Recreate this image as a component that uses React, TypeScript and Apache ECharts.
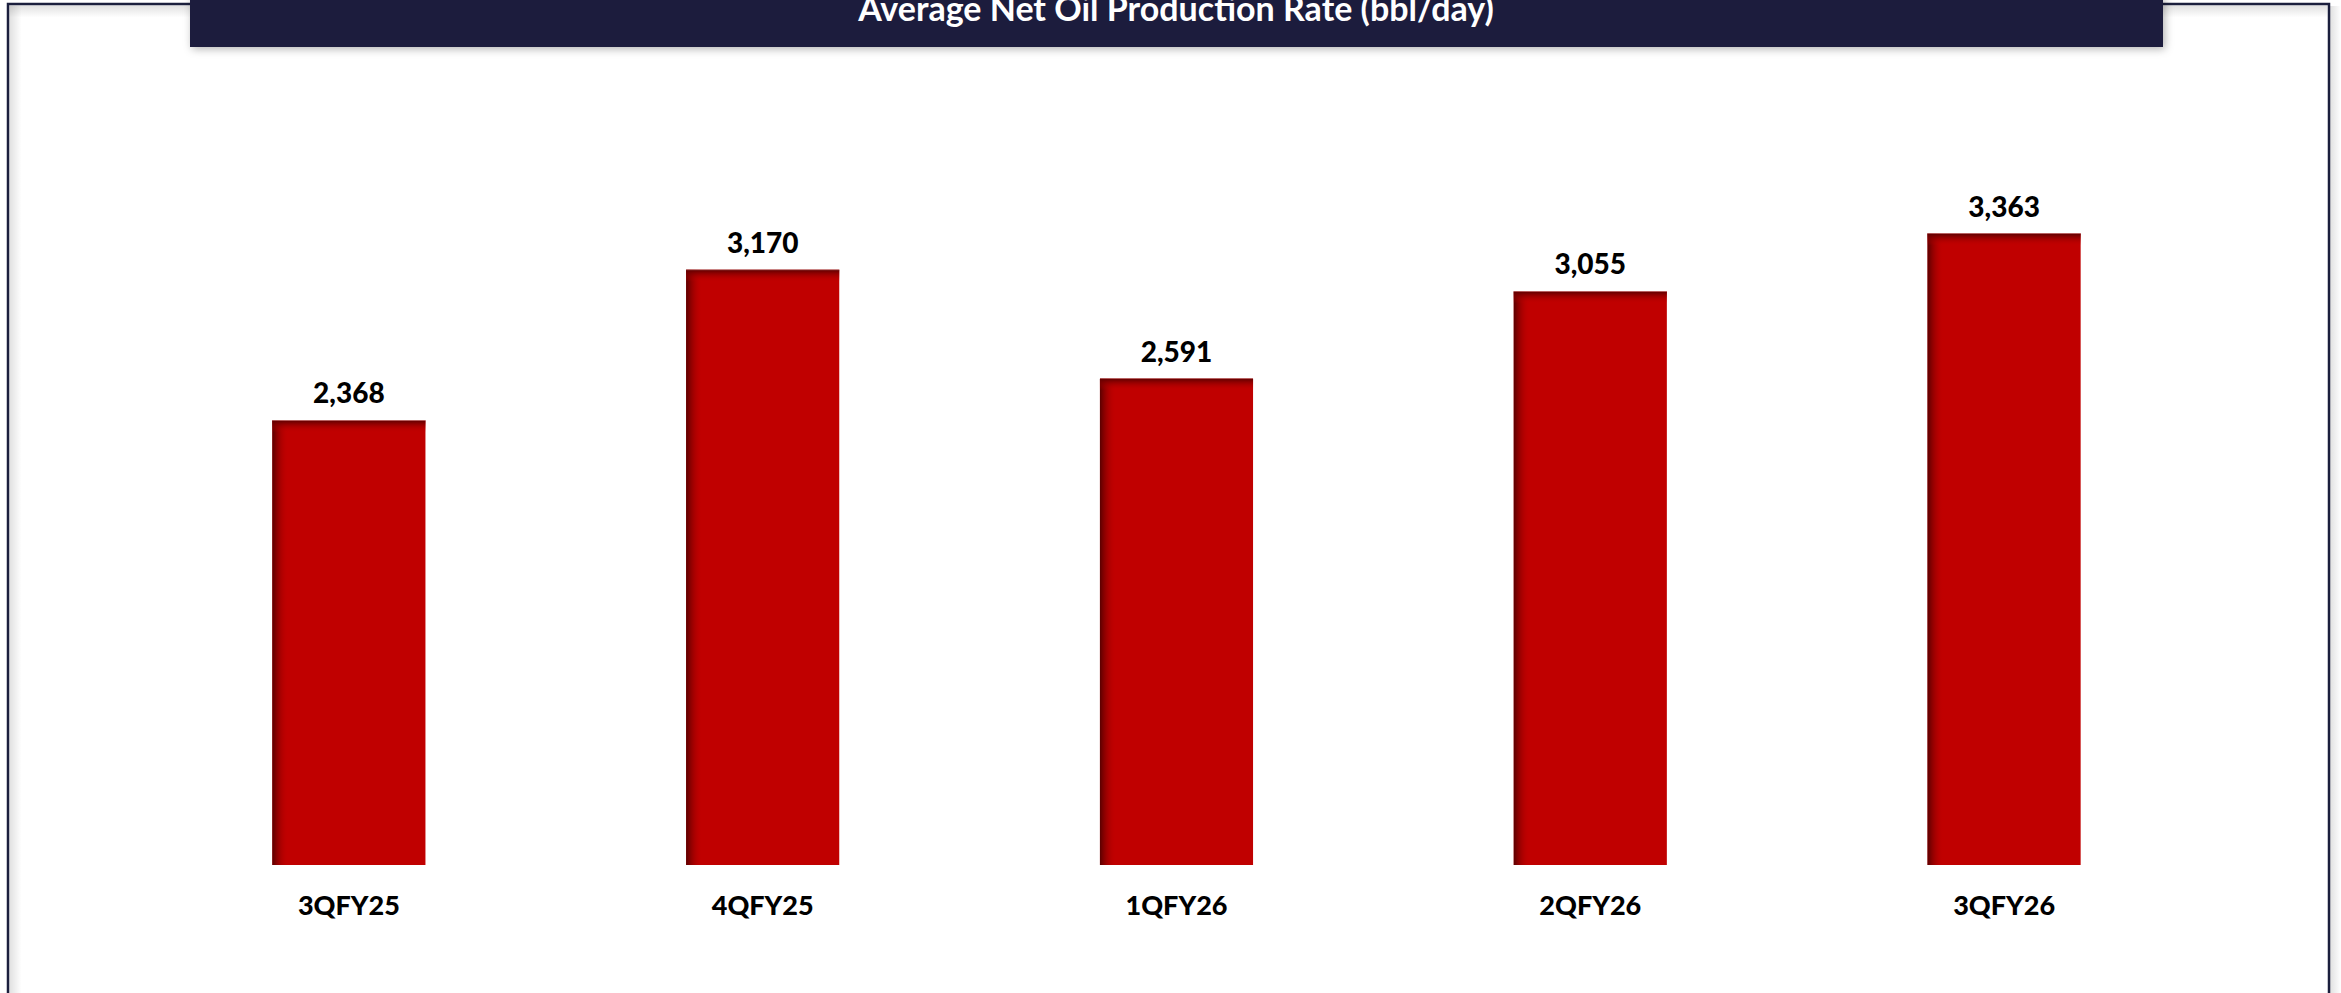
import React, { useEffect, useRef } from "react";
import * as echarts from "echarts";

const categories = ["3QFY25", "4QFY25", "1QFY26", "2QFY26", "3QFY26"];
const values = [2368, 3170, 2591, 3055, 3363];
const title = "Average Net Oil Production Rate (bbl/day)";

const W = 2341;
const H = 993;
const FONT = "Lato";

export default function App() {
  const ref = useRef<HTMLDivElement>(null);
  useEffect(() => {
    if (!ref.current) return;
    const chart = echarts.init(ref.current, null, { renderer: "svg", width: W, height: H });
    const barPct = 0.37;
    chart.setOption({
      animation: false,
      backgroundColor: "#ffffff",
      grid: { left: 142, right: 130, top: 114, bottom: 128, containLabel: false },
      xAxis: {
        type: "category",
        data: categories,
        axisLine: { show: true, lineStyle: { color: "#000000", width: 2.5, shadowColor: "rgba(0,0,0,0.35)", shadowBlur: 2, shadowOffsetY: 1 } },
        axisTick: { show: false },
        axisLabel: { color: "#000", fontFamily: FONT, fontWeight: 900, fontSize: 27, margin: 26 },
      },
      yAxis: { type: "value", min: 0, max: 4000, show: false, splitLine: { show: false } },
      graphic: [
        { type: "rect", z: -10, shape: { x: 2330, y: 6, width: 11, height: H }, style: { fill: new echarts.graphic.LinearGradient(0, 0, 1, 0, [{ offset: 0, color: "rgba(0,0,0,0.12)" }, { offset: 1, color: "rgba(0,0,0,0)" }]) } },
        { type: "rect", z: -9, shape: { x: 8, y: 4, width: 2321, height: H + 20 }, style: { fill: "#ffffff", stroke: "#1b1f3d", lineWidth: 2.5 } },
        { type: "rect", z: -8, shape: { x: 9.5, y: 5.5, width: 12, height: H }, style: { fill: new echarts.graphic.LinearGradient(0, 0, 1, 0, [{ offset: 0, color: "rgba(0,0,0,0.12)" }, { offset: 1, color: "rgba(0,0,0,0)" }]) } },
        { type: "rect", z: -8, shape: { x: 9.5, y: 5.5, width: 2318, height: 12 }, style: { fill: new echarts.graphic.LinearGradient(0, 0, 0, 1, [{ offset: 0, color: "rgba(0,0,0,0.12)" }, { offset: 1, color: "rgba(0,0,0,0)" }]) } },
        { type: "rect", z: 10, shape: { x: 190, y: -5, width: 1973, height: 52 }, style: { fill: "#1c1f3d", shadowColor: "rgba(0,0,0,0.3)", shadowBlur: 8, shadowOffsetY: 2, shadowOffsetX: 2 } },
        { type: "text", z: 11, x: 1176, y: 7, style: { text: title, fill: "#ffffff", font: `bold 34px ${FONT}`, align: "center", verticalAlign: "middle" } },
      ],
      series: [
        {
          type: "bar",
          data: values,
          barWidth: `${barPct * 100}%`,
          itemStyle: { color: "#c00000" },
          label: {
            show: true,
            position: "top",
            distance: 14,
            color: "#000",
            fontFamily: FONT,
            fontWeight: 900,
            fontSize: 28,
            formatter: (p: any) => Number(p.value).toLocaleString("en-US"),
          },
          z: 2,
        },
        {
          type: "custom",
          z: 3,
          silent: true,
          data: values.map((v, i) => [i, v]),
          renderItem: (params: any, api: any) => {
            const top = api.coord([api.value(0), api.value(1)]);
            const base = api.coord([api.value(0), 0]);
            const w = api.size([1, 0])[0] * barPct;
            const x0 = top[0] - w / 2;
            const h = base[1] - top[1];
            return {
              type: "group",
              children: [
                {
                  type: "rect",
                  shape: { x: x0, y: top[1], width: 16, height: h },
                  style: { fill: new echarts.graphic.LinearGradient(0, 0, 1, 0, [{ offset: 0, color: "#5a0000" }, { offset: 1, color: "rgba(192,0,0,0)" }]) },
                },
                {
                  type: "rect",
                  shape: { x: x0, y: top[1], width: w, height: 12 },
                  style: { fill: new echarts.graphic.LinearGradient(0, 0, 0, 1, [{ offset: 0, color: "#5e0000" }, { offset: 1, color: "rgba(192,0,0,0)" }]) },
                },
                {
                  type: "rect",
                  shape: { x: x0, y: top[1] - 0.5, width: w, height: 1 },
                  style: { fill: "rgba(200,120,120,0.6)" },
                },
              ],
            };
          },
        },
      ],
    });
    return () => chart.dispose();
  }, []);
  return <div ref={ref} style={{ position: "absolute", left: 0, top: 0, width: W, height: H }} />;
}
